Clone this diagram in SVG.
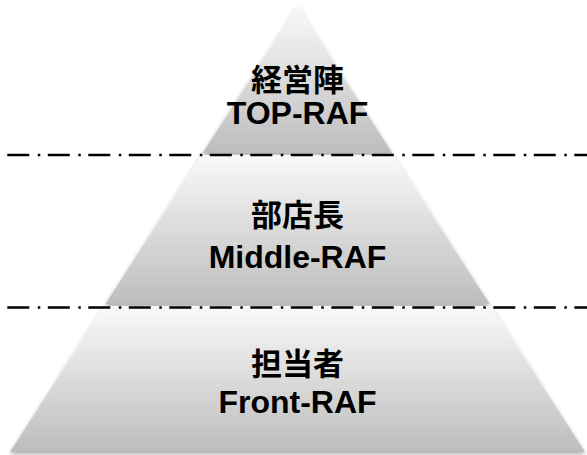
<svg xmlns="http://www.w3.org/2000/svg" width="587" height="455" viewBox="0 0 587 455">
<defs>
<linearGradient id="g" x1="0" y1="0" x2="0" y2="1">
<stop offset="0" stop-color="#f9f9f9"/>
<stop offset="1" stop-color="#bdbdbd"/>
</linearGradient>
<filter id="sh" x="-10%" y="-10%" width="120%" height="125%">
<feGaussianBlur in="SourceAlpha" stdDeviation="2"/>
<feOffset dx="0" dy="1.5" result="b"/>
<feComponentTransfer><feFuncA type="linear" slope="0.35"/></feComponentTransfer>
<feMerge><feMergeNode/><feMergeNode in="SourceGraphic"/></feMerge>
</filter>
<style>
.tier{fill:url(#g);filter:url(#sh)}
.jp{font-family:"Liberation Sans","Noto Sans CJK JP",sans-serif;font-weight:bold;font-size:31px;fill:#000;text-anchor:middle}
.en{font-family:"Liberation Sans",Arial,sans-serif;font-weight:bold;font-size:32px;fill:#000;text-anchor:middle}
.div{stroke:#000;stroke-width:2.5;stroke-dasharray:22 8.5 2.5 7.5;fill:none}
</style>
</defs>
<rect width="587" height="455" fill="#fff"/>
<g id="tier-top">
<polygon class="tier" points="297.5,6 392.3,153 202.7,153"/>
<text class="jp" x="297.5" y="91">経営陣</text>
<text class="en" x="297.5" y="124">TOP-RAF</text>
</g>
<g id="tier-middle">
<polygon class="tier" points="201.5,155 393.5,155 489.6,304 105.4,304"/>
<text class="jp" x="297.5" y="226">部店長</text>
<text class="en" x="297.5" y="268">Middle-RAF</text>
</g>
<g id="tier-front">
<polygon class="tier" points="104.1,306 490.9,306 585,452 10,452"/>
<text class="jp" x="297.5" y="375">担当者</text>
<text class="en" x="297.5" y="413">Front-RAF</text>
</g>
<g id="connectors">
<line class="div" x1="7.3" y1="155" x2="587" y2="155"/>
<line class="div" x1="7.3" y1="307.5" x2="587" y2="307.5"/>
</g>
</svg>
